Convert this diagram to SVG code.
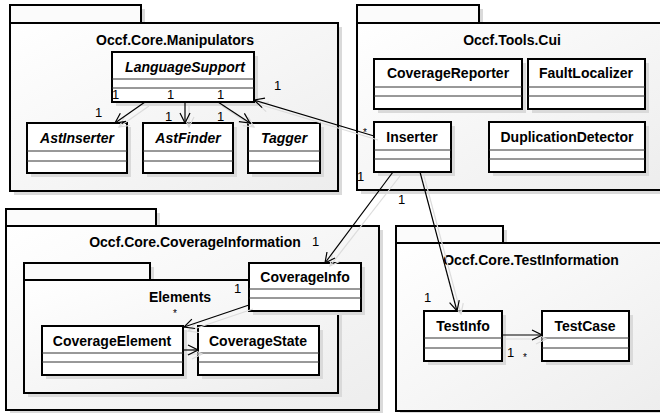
<svg xmlns="http://www.w3.org/2000/svg" width="660" height="413" viewBox="0 0 660 413">
<defs>
<linearGradient id="pg" x1="0" y1="0" x2="1" y2="1">
<stop offset="0" stop-color="#ffffff"/>
<stop offset="1" stop-color="#ededed"/>
</linearGradient>
<marker id="arr" viewBox="0 0 12 12" refX="11" refY="6" markerWidth="12" markerHeight="12" markerUnits="userSpaceOnUse" orient="auto">
<path d="M1,1 L11,6 L1,11" fill="none" stroke="#000" stroke-width="1.2"/>
</marker>
<marker id="arrs" viewBox="0 0 12 12" refX="11" refY="6" markerWidth="12" markerHeight="12" markerUnits="userSpaceOnUse" orient="auto">
<path d="M1,1 L11,6 L1,11" fill="none" stroke="#dcdcdc" stroke-width="1.2"/>
</marker>
</defs>
<style>
.sh{fill:#dadada;stroke:none}
.pk{fill:url(#pg);stroke:#000;stroke-width:2}
.tab{fill:#fbfbfb;stroke:#000;stroke-width:2}
.cl{fill:#fff;stroke:#000;stroke-width:2}
.sep{stroke:#333;stroke-width:1}
.pt{font-family:"Liberation Sans",Arial,sans-serif;font-weight:bold;font-size:14px;text-anchor:middle;fill:#000}
.ct{font-family:"Liberation Sans",Arial,sans-serif;font-weight:bold;font-size:14px;text-anchor:middle;fill:#000}
.it{font-style:italic}
.lb{font-family:"Liberation Sans",Arial,sans-serif;font-size:13px;fill:#000}
.st{font-family:"Liberation Sans",Arial,sans-serif;font-size:10px;fill:#000}
.ln{stroke:#000;stroke-width:1.2;fill:none;marker-end:url(#arr)}
.lns{stroke:#dcdcdc;stroke-width:1.2;fill:none;marker-end:url(#arrs)}
</style>
<rect width="660" height="413" fill="#fff"/>

<!-- Packages -->
<g id="pkg-manipulators">
<rect class="sh" x="14" y="9" width="131" height="18"/>
<rect class="sh" x="14" y="27" width="328" height="168"/>
<rect class="tab" x="10" y="5" width="131" height="18"/>
<rect class="pk" x="10" y="23" width="328" height="168"/>
<text class="pt" x="175" y="45">Occf.Core.Manipulators</text>
</g>
<g id="pkg-cui">
<rect class="sh" x="361" y="9" width="122" height="18"/>
<rect class="sh" x="361" y="27" width="310" height="167"/>
<rect class="tab" x="357" y="5" width="122" height="18"/>
<rect class="pk" x="357" y="23" width="310" height="167"/>
<text class="pt" x="512" y="45">Occf.Tools.Cui</text>
</g>
<g id="pkg-coverageinformation">
<rect class="sh" x="10" y="213" width="150" height="17"/>
<rect class="sh" x="10" y="230" width="373" height="184"/>
<rect class="tab" x="6" y="209" width="150" height="17"/>
<rect class="pk" x="6" y="226" width="373" height="184"/>
<text class="pt" x="195" y="247">Occf.Core.CoverageInformation</text>
</g>
<g id="pkg-elements">
<rect class="sh" x="28" y="267" width="126" height="17"/>
<rect class="sh" x="28" y="284" width="314" height="113"/>
<rect class="tab" x="24" y="263" width="126" height="17"/>
<rect class="pk" x="24" y="280" width="314" height="113"/>
<text class="pt" x="180" y="302">Elements</text>
</g>
<g id="pkg-testinformation">
<rect class="sh" x="400" y="230" width="107" height="17"/>
<rect class="sh" x="400" y="247" width="270" height="168"/>
<rect class="tab" x="396" y="226" width="107" height="17"/>
<rect class="pk" x="396" y="243" width="270" height="168"/>
<text class="pt" x="531" y="265">Occf.Core.TestInformation</text>
</g>

<!-- Classes -->
<g id="LanguageSupport">
<rect class="sh" x="116" y="56" width="142" height="50"/>
<rect class="cl" x="112" y="52" width="142" height="50"/>
<line class="sep" x1="112" y1="79" x2="254" y2="79"/><line class="sep" x1="112" y1="88" x2="254" y2="88"/>
<text class="ct it" x="185" y="72">LanguageSupport</text>
</g>
<g id="AstInserter">
<rect class="sh" x="31" y="127" width="100" height="50"/>
<rect class="cl" x="27" y="123" width="100" height="50"/>
<line class="sep" x1="27" y1="151" x2="127" y2="151"/><line class="sep" x1="27" y1="161" x2="127" y2="161"/>
<text class="ct it" x="77" y="143">AstInserter</text>
</g>
<g id="AstFinder">
<rect class="sh" x="147" y="127" width="90" height="50"/>
<rect class="cl" x="143" y="123" width="90" height="50"/>
<line class="sep" x1="143" y1="151" x2="233" y2="151"/><line class="sep" x1="143" y1="161" x2="233" y2="161"/>
<text class="ct it" x="188" y="143">AstFinder</text>
</g>
<g id="Tagger">
<rect class="sh" x="252" y="127" width="72" height="50"/>
<rect class="cl" x="248" y="123" width="72" height="50"/>
<line class="sep" x1="248" y1="151" x2="320" y2="151"/><line class="sep" x1="248" y1="161" x2="320" y2="161"/>
<text class="ct it" x="284" y="143">Tagger</text>
</g>
<g id="CoverageReporter">
<rect class="sh" x="378" y="63" width="148" height="50"/>
<rect class="cl" x="374" y="59" width="148" height="50"/>
<line class="sep" x1="374" y1="87" x2="522" y2="87"/><line class="sep" x1="374" y1="96" x2="522" y2="96"/>
<text class="ct" x="448" y="78">CoverageReporter</text>
</g>
<g id="FaultLocalizer">
<rect class="sh" x="532" y="63" width="117" height="50"/>
<rect class="cl" x="528" y="59" width="117" height="50"/>
<line class="sep" x1="528" y1="87" x2="645" y2="87"/><line class="sep" x1="528" y1="96" x2="645" y2="96"/>
<text class="ct" x="586" y="78">FaultLocalizer</text>
</g>
<g id="Inserter">
<rect class="sh" x="378" y="126" width="77" height="50"/>
<rect class="cl" x="374" y="122" width="77" height="50"/>
<line class="sep" x1="374" y1="150" x2="451" y2="150"/><line class="sep" x1="374" y1="159" x2="451" y2="159"/>
<text class="ct" x="412" y="142">Inserter</text>
</g>
<g id="DuplicationDetector">
<rect class="sh" x="493" y="126" width="156" height="50"/>
<rect class="cl" x="489" y="122" width="156" height="50"/>
<line class="sep" x1="489" y1="150" x2="645" y2="150"/><line class="sep" x1="489" y1="159" x2="645" y2="159"/>
<text class="ct" x="567" y="142">DuplicationDetector</text>
</g>
<g id="CoverageInfo">
<rect class="sh" x="253" y="267" width="112" height="48"/>
<rect class="cl" x="249" y="263" width="112" height="48"/>
<line class="sep" x1="249" y1="289" x2="361" y2="289"/><line class="sep" x1="249" y1="298" x2="361" y2="298"/>
<text class="ct" x="305" y="282">CoverageInfo</text>
</g>
<g id="CoverageElement">
<rect class="sh" x="46" y="330" width="141" height="49"/>
<rect class="cl" x="42" y="326" width="141" height="49"/>
<line class="sep" x1="42" y1="353" x2="183" y2="353"/><line class="sep" x1="42" y1="362" x2="183" y2="362"/>
<text class="ct" x="112" y="346">CoverageElement</text>
</g>
<g id="CoverageState">
<rect class="sh" x="202" y="330" width="121" height="49"/>
<rect class="cl" x="198" y="326" width="121" height="49"/>
<line class="sep" x1="198" y1="353" x2="319" y2="353"/><line class="sep" x1="198" y1="362" x2="319" y2="362"/>
<text class="ct" x="258" y="346">CoverageState</text>
</g>
<g id="TestInfo">
<rect class="sh" x="428" y="315" width="78" height="50"/>
<rect class="cl" x="424" y="311" width="78" height="50"/>
<line class="sep" x1="424" y1="338" x2="502" y2="338"/><line class="sep" x1="424" y1="348" x2="502" y2="348"/>
<text class="ct" x="463" y="331">TestInfo</text>
</g>
<g id="TestCase">
<rect class="sh" x="546" y="315" width="87" height="50"/>
<rect class="cl" x="542" y="311" width="87" height="50"/>
<line class="sep" x1="542" y1="338" x2="629" y2="338"/><line class="sep" x1="542" y1="348" x2="629" y2="348"/>
<text class="ct" x="585" y="331">TestCase</text>
</g>

<!-- Connectors -->
<g id="connectors">
<line class="lns" x1="149" y1="106" x2="119" y2="127"/>
<line class="lns" x1="189" y1="106" x2="189" y2="127"/>
<line class="lns" x1="222" y1="106" x2="254" y2="127"/>
<line class="lns" x1="378" y1="140" x2="258" y2="104"/>
<line class="lns" x1="400" y1="176" x2="330" y2="266"/>
<line class="lns" x1="424" y1="176" x2="461" y2="314"/>
<line class="lns" x1="253" y1="309" x2="188" y2="331"/>
<line class="lns" x1="187" y1="354" x2="202" y2="354"/>
<line class="lns" x1="506" y1="339" x2="546" y2="339"/>

<line class="ln" x1="145" y1="102" x2="115" y2="123"/>
<line class="ln" x1="185" y1="102" x2="185" y2="123"/>
<line class="ln" x1="218" y1="102" x2="250" y2="123"/>
<line class="ln" x1="374" y1="136" x2="254" y2="100"/>
<line class="ln" x1="393" y1="172" x2="325" y2="263"/>
<line class="ln" x1="420" y1="172" x2="457" y2="311"/>
<line class="ln" x1="249" y1="305" x2="184" y2="327"/>
<line class="ln" x1="183" y1="350" x2="198" y2="350"/>
<line class="ln" x1="502" y1="335" x2="542" y2="335"/>

<text class="lb" x="112" y="99">1</text>
<text class="lb" x="167" y="99">1</text>
<text class="lb" x="217" y="99">1</text>
<text class="lb" x="95" y="117">1</text>
<text class="lb" x="165" y="121">1</text>
<text class="lb" x="217" y="121">1</text>
<text class="lb" x="274" y="90">1</text>
<text class="st" x="363" y="136">*</text>
<text class="lb" x="357" y="181">1</text>
<text class="lb" x="398" y="204">1</text>
<text class="lb" x="312" y="246">1</text>
<text class="lb" x="424" y="302">1</text>
<text class="lb" x="234" y="293">1</text>
<text class="st" x="173" y="317">*</text>
<text class="lb" x="507" y="357">1</text>
<text class="st" x="523" y="361">*</text>
</g>
</svg>
